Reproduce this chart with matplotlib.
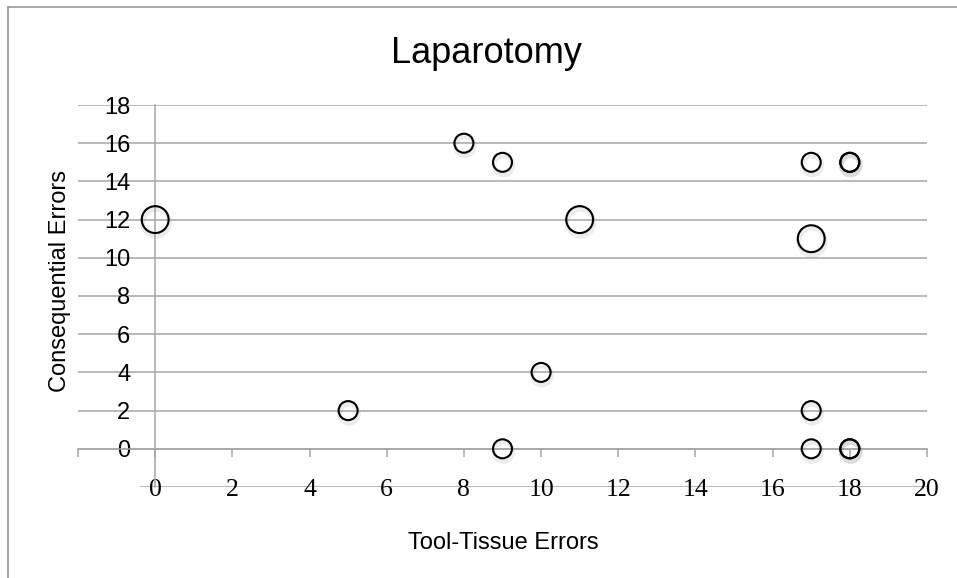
import matplotlib.pyplot as plt
import matplotlib.patheffects as pe
from matplotlib.lines import Line2D

# --- data ---
tool_tissue = [0, 8, 9, 11, 17, 18, 18, 17, 10, 5, 17, 9, 17, 18, 18]
consequential = [12, 16, 15, 12, 15, 15, 15, 11, 4, 2, 2, 0, 0, 0, 0]
bubble_size = [2, 1, 1, 2, 1, 1, 1, 2, 1, 1, 1, 1, 1, 1, 1]

x_ticks = list(range(-2, 21, 2))
y_ticks = list(range(-2, 19, 2))

W, H = 957, 578
fig = plt.figure(figsize=(W / 100, H / 100), dpi=100)
ax = fig.add_axes([78 / W, 1 - 487 / H, (927 - 78) / W, (487 - 105) / H])

grey = '#a6a6a6'

# horizontal gridlines (the -2 line is shorter in the original)
for yv in y_ticks[1:]:
    ax.axhline(yv, color=grey, lw=1.1, zorder=0)
ax.hlines(-2, -0.4, 20, color=grey, lw=1.1, zorder=0)

# bubbles (area proportional to size), hollow with soft shadow
sizes = [187 * s for s in bubble_size]
ax.scatter(tool_tissue, consequential, s=sizes, facecolors='none',
           edgecolors='black', linewidths=1.5, zorder=3,
           path_effects=[pe.SimpleLineShadow(offset=(0.6, -2.2), shadow_color='gray',
                                             alpha=0.15, linewidth=3.5),
                         pe.Normal()])

ax.set_xlim(-2, 20)
ax.set_ylim(-2, 18)

# axes cross at zero, like Excel
ax.spines['left'].set_position(('data', 0))
ax.spines['bottom'].set_position(('data', 0))
ax.spines['top'].set_visible(False)
ax.spines['right'].set_visible(False)
for s in ('left', 'bottom'):
    ax.spines[s].set_color(grey)
    ax.spines[s].set_linewidth(1.1)

ax.set_xticks(x_ticks)
ax.set_xticklabels(['' if v < 0 else str(v) for v in x_ticks],
                   fontfamily='Liberation Serif', fontsize=18.5)
ax.set_yticks(y_ticks)
ax.set_yticklabels(['' if v < 0 else str(v) for v in y_ticks],
                   fontfamily='Liberation Sans', fontsize=17)
ax.tick_params(axis='x', direction='out', length=6, width=1.1, color=grey, pad=16)
ax.tick_params(axis='y', length=0, pad=18)
ax.patch.set_alpha(0)

# texts
fig.text(487 / W, 1 - 63 / H, 'Laparotomy', ha='center', va='baseline',
         fontsize=26, fontfamily='Liberation Sans')
fig.text(503 / W, 1 - 549 / H, 'Tool-Tissue Errors', ha='center', va='baseline',
         fontsize=17, fontfamily='Liberation Sans')
fig.text(60 / W, 1 - 281 / H, 'Consequential Errors', ha='center', va='center',
         rotation=90, fontsize=17, fontfamily='Liberation Sans')

# chart-area border (top and left edges visible)
fig.add_artist(Line2D([8 / W, 8 / W], [0, 1 - 7 / H], transform=fig.transFigure,
                      color='#999999', lw=1.2))
fig.add_artist(Line2D([8 / W, 1], [1 - 7 / H, 1 - 7 / H], transform=fig.transFigure,
                      color='#999999', lw=1.2))

fig.savefig('out.png', dpi=100)
